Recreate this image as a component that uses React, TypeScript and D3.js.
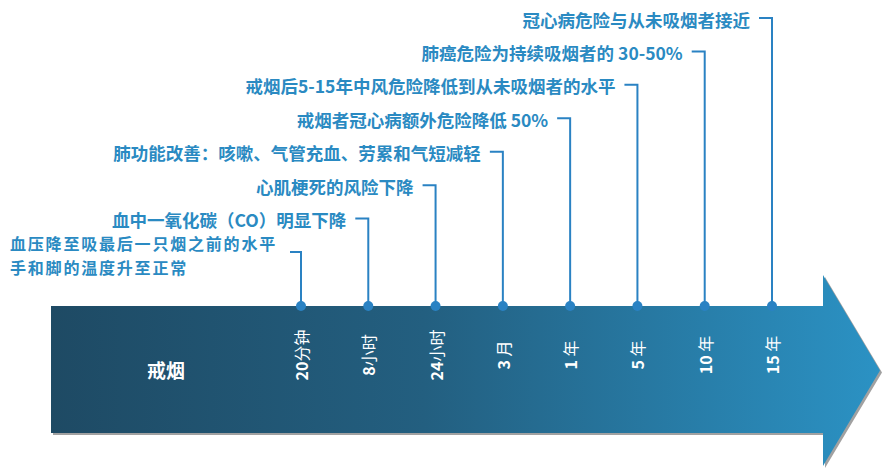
import React from "react";
import * as d3 from "d3";

const ticks = ["20分钟", "8小时", "24小时", "3月", "1年", "5年", "10年", "15年"];
const tickNum = ["20", "8", "24", "3", "1", "5", "10", "15"];
const tickUnit = ["分钟", "小时", "小时", " 月", " 年", " 年", " 年", " 年"];
const labels = [
  ["血压降至吸最后一只烟之前的水平", "手和脚的温度升至正常"],
  ["血中一氧化碳（CO）明显下降"],
  ["心肌梗死的风险下降"],
  ["肺功能改善：咳嗽、气管充血、劳累和气短减轻"],
  ["戒烟者冠心病额外危险降低 50%"],
  ["戒烟后5-15年中风危险降低到从未吸烟者的水平"],
  ["肺癌危险为持续吸烟者的 30-50%"],
  ["冠心病危险与从未吸烟者接近"],
];
const startLabel = "戒烟";

const W = 882;
const H = 468;
const bodyLeft = 51;
const bodyTop = 306;
const bodyBottom = 433;
const headX = 823;
const headTop = 275;
const headBottom = 466;
const tipX = 880;

const blue = "#2a82c3";
const textBlue = "#2a8ac2";
const font = "'Noto Sans CJK SC', 'Noto Sans', sans-serif";

export default function App() {
  const x = d3.scalePoint<string>().domain(ticks).range([301, 772]);
  const yLevel = d3.scalePoint<string>().domain(ticks).range([252, 18]);
  const midY = (headTop + headBottom) / 2;

  const arrow = d3.path();
  arrow.moveTo(bodyLeft, bodyTop);
  arrow.lineTo(headX, bodyTop);
  arrow.lineTo(headX, headTop);
  arrow.lineTo(tipX, midY);
  arrow.lineTo(headX, headBottom);
  arrow.lineTo(headX, bodyBottom);
  arrow.lineTo(bodyLeft, bodyBottom);
  arrow.closePath();

  return (
    <svg
      width={W}
      height={H}
      style={{ position: "absolute", left: 0, top: 0, background: "#fff" }}
    >
      <defs>
        <linearGradient id="ag" x1="0" x2="1" y1="0" y2="0">
          <stop offset="0%" stopColor="#1e4a64" />
          <stop offset="45%" stopColor="#235f80" />
          <stop offset="100%" stopColor="#2b92c4" />
        </linearGradient>
      </defs>
      <path d={arrow.toString()} fill="#8a8a8a" transform="translate(2,2)" opacity={0.8} />
      <path d={arrow.toString()} fill="url(#ag)" />
      <text
        x={166}
        y={369}
        fill="#fff"
        fontFamily={font}
        fontWeight="bold"
        fontSize={19}
        textAnchor="middle"
        dominantBaseline="central"
      >
        {startLabel}
      </text>
      {ticks.map((t, i) => {
        const cx = x(t)!;
        const ly = yLevel(t)!;
        const isFirst = i === 0;
        const hx0 = cx - (isFirst ? 11 : 13);
        return (
          <g key={t}>
            <path
              d={`M${hx0},${ly}H${cx}V${bodyTop}`}
              fill="none"
              stroke={blue}
              strokeWidth={2}
            />
            <circle cx={cx} cy={bodyTop} r={5} fill={blue} />
            <text
              transform={`translate(${cx},355) rotate(-90)`}
              fill="#fff"
              fontFamily={font}
              fontSize={16}
              textAnchor="middle"
              dominantBaseline="central"
            >
              <tspan fontWeight="bold">{tickNum[i]}</tspan>
              <tspan>{tickUnit[i]}</tspan>
            </text>
            {isFirst ? (
              labels[i].map((s, j) => (
                <text
                  key={j}
                  x={10}
                  y={243 + j * 23.5}
                  fill={textBlue}
                  fontFamily={font}
                  fontWeight="bold"
                  fontSize={16}
                  letterSpacing={1.8}
                  dominantBaseline="central"
                >
                  {s}
                </text>
              ))
            ) : (
              <text
                x={hx0 - 9}
                y={ly + 1}
                fill={textBlue}
                fontFamily={font}
                fontWeight="bold"
                fontSize={17.5}
                textAnchor="end"
                dominantBaseline="central"
              >
                {labels[i][0]}
              </text>
            )}
          </g>
        );
      })}
    </svg>
  );
}
